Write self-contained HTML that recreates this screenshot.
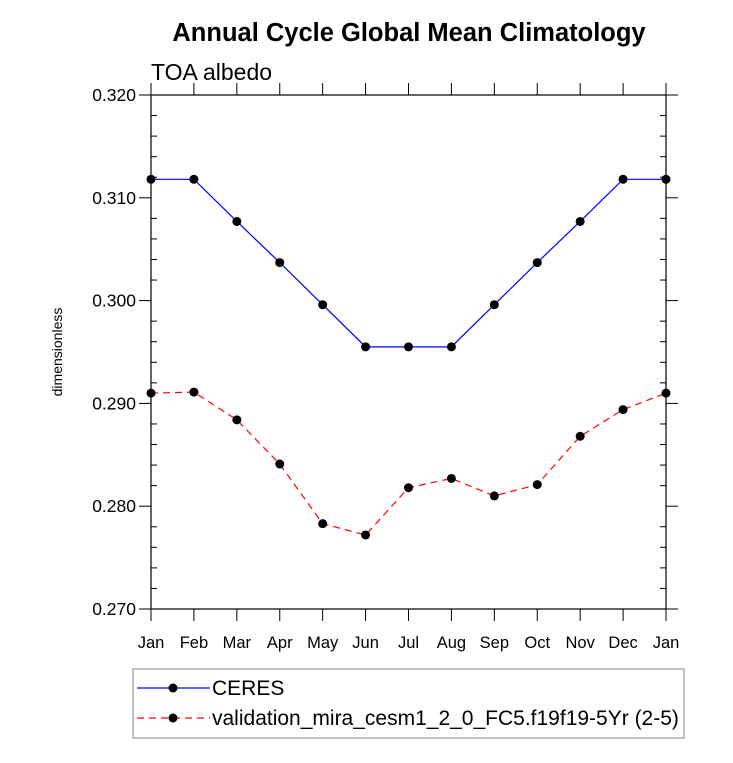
<!DOCTYPE html>
<html><head><meta charset="utf-8"><style>
body{margin:0;background:#fff;width:733px;height:758px;overflow:hidden}
svg{font-family:"Liberation Sans",Arial,sans-serif}
</style></head><body>
<svg id="c" width="733" height="758">
<text x="409" y="41" text-anchor="middle" font-size="25.5" font-weight="bold">Annual Cycle Global Mean Climatology</text>
<text x="151" y="80" font-size="23">TOA albedo</text>
<text transform="translate(62,352) rotate(-90)" text-anchor="middle" font-size="14">dimensionless</text>
<g id="axes"></g>
<g id="series"></g>
<rect x="133" y="669" width="551" height="69" fill="none" stroke="#999" stroke-width="1.2"/>
<g>
<line x1="137" y1="688" x2="210" y2="688" stroke="#00f" stroke-width="1.2"/>
<circle cx="173" cy="688" r="4.5" fill="#000"/>
<text x="212" y="695" font-size="21">CERES</text></g>
<g>
<line x1="137" y1="718" x2="210" y2="718" stroke="#f00" stroke-width="1.2" stroke-dasharray="7,5"/>
<circle cx="173" cy="718" r="4.5" fill="#000"/>
<text x="212" y="725" font-size="21">validation_mira_cesm1_2_0_FC5.f19f19-5Yr (2-5)</text></g>
</svg>
<script>
const months=["Jan","Feb","Mar","Apr","May","Jun","Jul","Aug","Sep","Oct","Nov","Dec","Jan"];
const ceres=[0.3118,0.3118,0.3077,0.3037,0.2996,0.2955,0.2955,0.2955,0.2996,0.3037,0.3077,0.3118,0.3118];
const model=[0.2910,0.2911,0.2884,0.2841,0.2783,0.2772,0.2818,0.2827,0.2810,0.2821,0.2868,0.2894,0.2910];
const yTicks=["0.270","0.280","0.290","0.300","0.310","0.320"];
const L=151,R=666,T=95,B=609,ymin=0.27,ymax=0.32;
const NS="http://www.w3.org/2000/svg";
const xs=i=>L+(R-L)*i/12;
const ys=v=>B-(v-ymin)/(ymax-ymin)*(B-T);
function mk(t,a,p){const e=document.createElementNS(NS,t);for(const k in a)e.setAttribute(k,a[k]);p.appendChild(e);return e;}
const ax=document.getElementById('axes');
const frame=mk('rect',{x:L,y:T,width:R-L,height:B-T,fill:'none',stroke:'#000','stroke-width':1.2},ax);


for(let k=0;k<=25;k++){const v=ymin+k*0.002,y=ys(v);
 if(k%5===0){mk('line',{x1:L-12,y1:y,x2:L,y2:y,stroke:'#000'},ax);mk('line',{x1:R,y1:y,x2:R+12,y2:y,stroke:'#000'},ax);
  const t=mk('text',{x:L-15,y:y+6,'text-anchor':'end','font-size':17.5},ax);t.textContent=yTicks[k/5];
  
  }
 else{mk('line',{x1:L,y1:y,x2:L+6,y2:y,stroke:'#000'},ax);mk('line',{x1:R-6,y1:y,x2:R,y2:y,stroke:'#000'},ax);}}
months.forEach((m,i)=>{const x=xs(i);
 mk('line',{x1:x,y1:B,x2:x,y2:B+12,stroke:'#000'},ax);mk('line',{x1:x,y1:T-12,x2:x,y2:T,stroke:'#000'},ax);
 const t=mk('text',{x:x,y:B+39,'text-anchor':'middle','font-size':16.5},ax);t.textContent=m;
 
 });
const sg=document.getElementById('series');
function series(vals,col,dash,name){
 const g=mk('g',{},sg);
 
 
 const p=mk('polyline',{points:vals.map((v,i)=>xs(i)+','+ys(v)).join(' '),fill:'none',stroke:col,'stroke-width':1.2},g);
 if(dash)p.setAttribute('stroke-dasharray','7,5');
 vals.forEach((v,i)=>{const c=mk('circle',{cx:xs(i),cy:ys(v),r:4.5,fill:'#000'},g);
  
  });}
series(ceres,'#00f',false,'ceres-series');
series(model,'#f00',true,'model-series');
</script>
</body></html>
